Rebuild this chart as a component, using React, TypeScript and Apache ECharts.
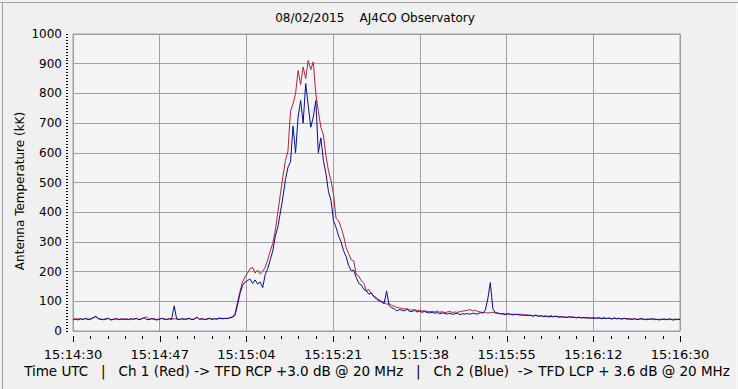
import React, { useEffect, useRef } from "react";
import * as echarts from "echarts";

const titleText = "08/02/2015    AJ4CO Observatory";
const yAxisTitle = "Antenna Temperature (kK)";
const footerText =
  "Time UTC   |   Ch 1 (Red) -> TFD RCP +3.0 dB @ 20 MHz   |   Ch 2 (Blue)  -> TFD LCP + 3.6 dB @ 20 MHz";

const timeLabels = [
  "15:14:30",
  "15:14:47",
  "15:15:04",
  "15:15:21",
  "15:15:38",
  "15:15:55",
  "15:16:12",
  "15:16:30",
];
const yTicks = [0, 100, 200, 300, 400, 500, 600, 700, 800, 900, 1000];

const sampleStep = 0.5; // seconds between samples, starting at 15:14:30
const spanSeconds = 120;
const minorPerMajor = 5;

// Ch 1 (Red) — RCP
const ch1Red = [
  39, 41, 40, 42, 38, 43, 40, 41, 45, 48, 42, 40, 39, 41, 43, 38, 40, 42, 39, 41, 40,
  41, 39, 42, 40, 43, 39, 41, 44, 48, 40, 42, 41, 39, 40, 43, 41, 39, 42, 40,
  41,
  41, 39, 42, 40, 41, 43, 39, 41, 47, 40, 42, 39, 41, 43, 40, 42, 41, 44, 42, 43,
  42, 45, 48, 56, 95, 132, 165, 182, 195, 210, 214, 195, 205, 192, 200, 215, 240, 270, 295, 340,
  400, 462, 520, 574, 607, 740, 765, 800, 877, 830, 889, 850, 911, 880, 906, 799, 740, 686, 660, 590,
  540, 506, 461, 380, 371, 349, 320, 281, 260, 240, 236, 191, 185, 169, 160, 135, 140, 125, 118, 112,
  105, 100, 96, 90, 92, 86, 84, 80, 78, 76, 74, 75, 72, 70, 72, 69, 70, 67, 68, 66,
  65, 66, 64, 67, 63, 65, 62, 64, 66, 62, 64, 63, 65, 67, 68, 70, 72, 68, 70, 66,
  64, 62, 63, 60, 62, 63, 61, 60, 58, 59, 57, 58, 56, 57, 55, 56, 57, 54, 55, 53,
  53, 51, 54, 50, 52, 50, 51, 49, 52, 48, 50, 49, 47, 48, 46, 48, 47, 46, 45, 47,
  45, 44, 46, 43, 45, 44, 42, 44, 43, 45, 42, 43, 41, 44, 42, 43, 41, 42, 40, 42,
  40, 42, 39, 41, 40, 38, 41, 39, 40, 42, 38, 40, 39, 41, 38, 40, 39, 40, 38, 40,
];

// Ch 2 (Blue) — LCP
const ch2Blue = [
  38, 40, 37, 41, 39, 42, 38, 40, 44, 50, 41, 39, 38, 40, 42, 37, 39, 41, 38, 40, 39,
  40, 38, 41, 39, 42, 38, 40, 45, 39, 38, 41, 40, 37, 39, 42, 40, 38, 41, 39,
  85,
  40, 38, 41, 39, 40, 42, 38, 40, 46, 39, 41, 38, 40, 42, 39, 41, 40, 43, 41, 42,
  42, 44, 46, 52, 85, 125, 152, 165, 170, 175, 160, 172, 158, 165, 146, 190, 210, 240, 270, 320,
  350, 400, 450, 510, 551, 570, 690, 600, 720, 776, 700, 833, 760, 686, 720, 776, 600, 650, 574, 530,
  470, 440, 371, 349, 320, 300, 270, 250, 220, 203, 205, 180, 160, 155, 140, 135, 124, 128, 115, 108,
  101, 98, 92, 135, 85, 79, 75, 68, 72, 70, 68, 73, 66, 65, 70, 64, 67, 63, 66, 62,
  61, 63, 60, 62, 58, 61, 59, 57, 60, 56, 58, 60, 55, 58, 57, 59, 56, 60, 58, 57,
  62, 60, 70, 108, 163, 75, 62, 60, 58, 57, 55, 58, 56, 54, 57, 55, 53, 54, 52, 53,
  52, 50, 53, 49, 51, 48, 50, 47, 49, 48, 50, 46, 48, 47, 45, 48, 46, 47, 44, 46,
  44, 46, 43, 45, 42, 44, 43, 45, 41, 43, 42, 44, 40, 43, 41, 42, 40, 43, 41, 40,
  39, 41, 38, 40, 42, 39, 38, 40, 41, 38, 39, 37, 40, 38, 39, 41, 37, 38, 40, 39,
];

const FONT = "DejaVu Sans";

export default function App() {
  const ref = useRef<HTMLDivElement>(null);

  useEffect(() => {
    if (!ref.current) return;
    const chart = echarts.init(ref.current, null, { renderer: "svg" });
    const interval = spanSeconds / (timeLabels.length - 1);
    const toPairs = (arr: number[]) => arr.map((v, i) => [i * sampleStep, v]);

    // tick marks of the time axis (major at each label, 4 minor between)
    const tickMarks: number[][] = [];
    const nMinor = (timeLabels.length - 1) * minorPerMajor;
    for (let k = 0; k <= nMinor; k++) {
      tickMarks.push([(k * interval) / minorPerMajor, k % minorPerMajor === 0 ? 1 : 0]);
    }

    chart.setOption({
      animation: false,
      backgroundColor: "#f0f0f0",
      grid: {
        left: 73,
        right: 58,
        top: 34,
        bottom: 58,
        show: true,
        backgroundColor: "#f5f5f8",
        borderColor: "#a0a0a0",
        borderWidth: 1,
      },
      xAxis: {
        type: "value",
        min: 0,
        max: spanSeconds,
        interval,
        offset: 5,
        axisLine: { show: true, onZero: false, lineStyle: { color: "rgba(0,0,0,0)" } },
        axisTick: { show: false },
        splitLine: { show: true, lineStyle: { color: "#a0a0a0", width: 1 } },
        axisLabel: {
          margin: 12,
          color: "#000",
          fontFamily: FONT,
          fontSize: 13,
          showMinLabel: true,
          showMaxLabel: true,
          formatter: (v: number) => {
            const idx = Math.round(v / interval);
            return timeLabels[idx] ?? "";
          },
        },
      },
      yAxis: {
        type: "value",
        min: yTicks[0],
        max: yTicks[yTicks.length - 1],
        interval: yTicks[1] - yTicks[0],
        offset: 5,
        axisLine: { show: true, onZero: false, lineStyle: { color: "rgba(0,0,0,0)" } },
        axisTick: { show: true, length: 2, lineStyle: { color: "#000" } },
        minorTick: { show: true, splitNumber: 10, length: 2, lineStyle: { color: "#000" } },
        splitLine: { show: true, lineStyle: { color: "#a0a0a0", width: 1 } },
        axisLabel: {
          margin: 6,
          color: "#000",
          fontFamily: FONT,
          fontSize: 12,
          formatter: (v: number) => String(v),
        },
      },
      series: [
        {
          name: "Ch 1 (Red)",
          type: "line",
          data: toPairs(ch1Red),
          showSymbol: false,
          symbol: "none",
          lineStyle: { color: "#b22234", width: 1 },
          z: 2,
        },
        {
          name: "Ch 2 (Blue)",
          type: "line",
          data: toPairs(ch2Blue),
          showSymbol: false,
          symbol: "none",
          lineStyle: { color: "#0c0c8c", width: 1 },
          z: 3,
        },
        {
          name: "timeTicks",
          type: "custom",
          clip: false,
          silent: true,
          z: 5,
          encode: { x: 0, y: 1 },
          data: tickMarks,
          renderItem: (_params: any, api: any) => {
            const v = api.value(0);
            const major = api.value(1) === 1;
            const p = api.coord([v, 0]);
            const x = Math.round(p[0]) + 0.5;
            const y0 = Math.round(p[1]) + 5;
            const len = major ? 6 : 3;
            return {
              type: "line",
              shape: { x1: x, y1: y0, x2: x, y2: y0 + len },
              style: { stroke: "#000", lineWidth: 1 },
            };
          },
        },
      ],
      graphic: [
        {
          type: "line",
          shape: { x1: 0, y1: 2.5, x2: 738, y2: 2.5 },
          style: { stroke: "#a0a0a0", lineWidth: 1 },
        },
        {
          type: "line",
          shape: { x1: 2.5, y1: 2, x2: 2.5, y2: 389 },
          style: { stroke: "#a0a0a0", lineWidth: 1 },
        },
        {
          type: "line",
          shape: { x1: 736.5, y1: 3, x2: 736.5, y2: 389 },
          style: { stroke: "#ffffff", lineWidth: 1 },
        },
        {
          type: "text",
          x: 375,
          y: 18,
          style: {
            text: titleText,
            fill: "#000",
            font: `12px ${FONT}`,
            textAlign: "center",
            textVerticalAlign: "middle",
          },
        },
        {
          type: "text",
          x: 20,
          y: 191,
          rotation: Math.PI / 2,
          style: {
            text: yAxisTitle,
            fill: "#000",
            font: `12px ${FONT}`,
            textAlign: "center",
            textVerticalAlign: "middle",
          },
        },
        {
          type: "text",
          x: 377,
          y: 371,
          style: {
            text: footerText,
            fill: "#000",
            font: `13.5px ${FONT}`,
            textAlign: "center",
            textVerticalAlign: "middle",
          },
        },
      ],
    });

    return () => chart.dispose();
  }, []);

  return (
    <div
      ref={ref}
      style={{ position: "absolute", left: 0, top: 0, width: 738, height: 389 }}
    />
  );
}
